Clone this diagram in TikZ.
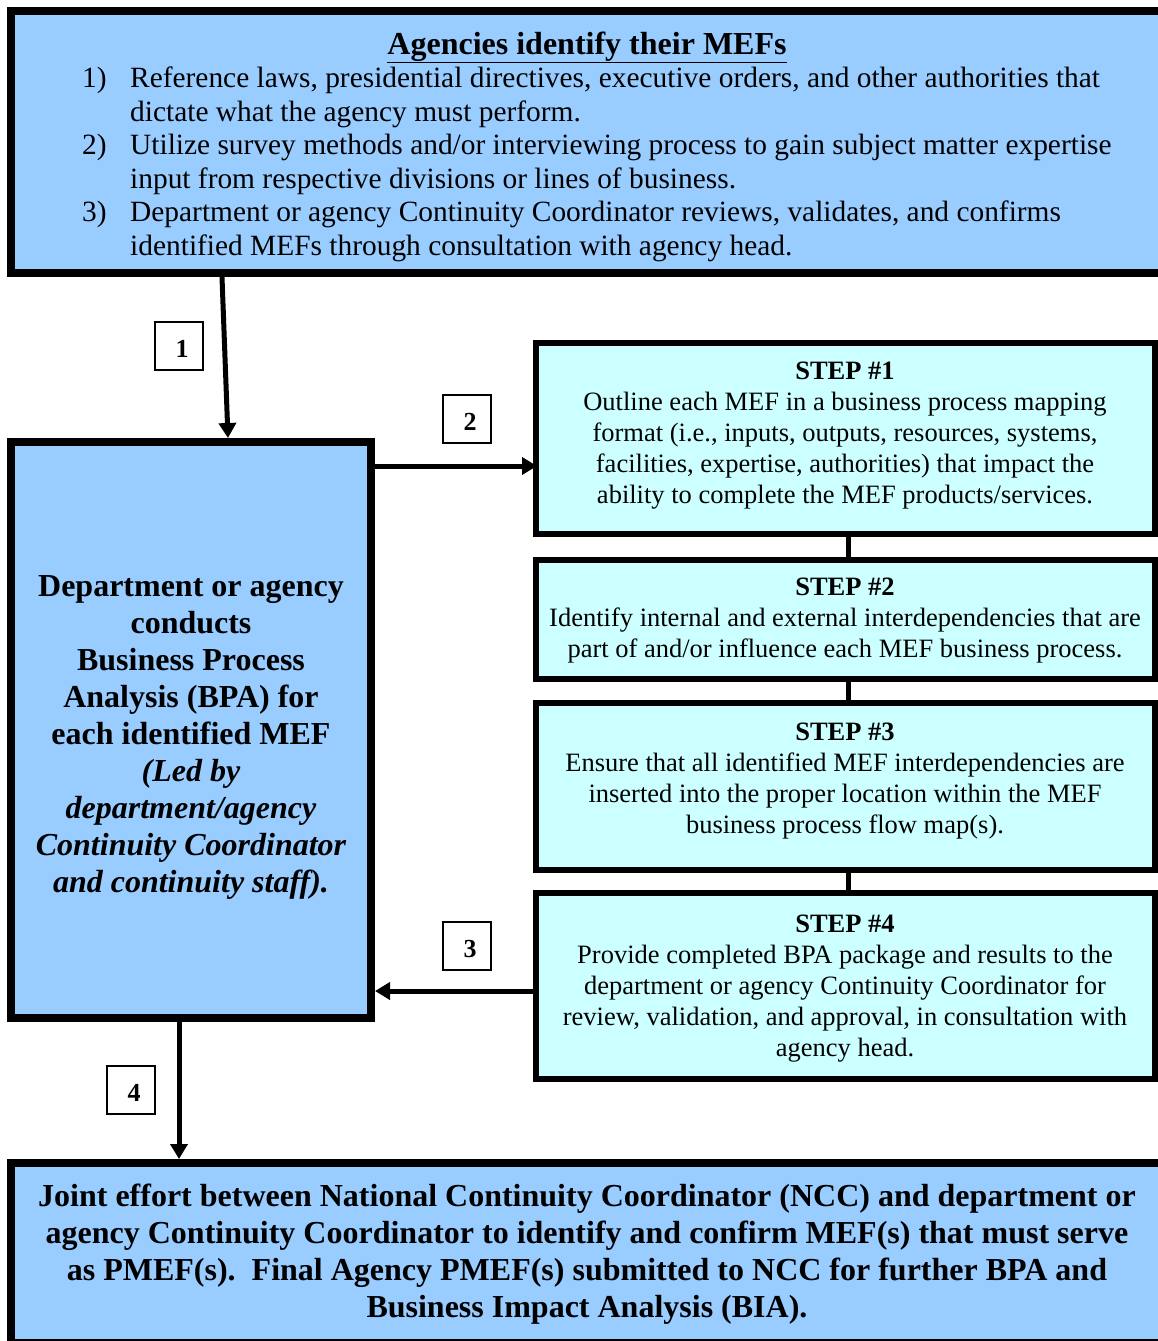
\documentclass[tikz,border=0pt]{standalone}
\usepackage{fontspec}
\setmainfont{Liberation Serif}
\usetikzlibrary{arrows.meta,calc}
\definecolor{boxblue}{RGB}{153,204,255}
\definecolor{boxcyan}{RGB}{204,255,255}
\begin{document}
\begin{tikzpicture}[x=1pt,y=-1pt,
  bluebox/.style={draw=black,line width=8pt,fill=boxblue,inner sep=0pt},
  stepbox/.style={draw=black,line width=6pt,fill=boxcyan,inner sep=0pt},
  numbox/.style={draw=black,line width=1.5pt,fill=white,minimum width=48pt,minimum height=48pt,inner sep=0pt},
  numtext/.style={font=\fontsize{26}{30}\selectfont\bfseries,inner sep=0pt},
  arr/.style={line width=5pt,-{Triangle[length=15pt,width=17pt]}},
  link/.style={line width=5pt},
  body/.style={font=\fontsize{26.5}{31}\selectfont,inner sep=0pt},
  bigbold/.style={font=\fontsize{32}{37}\selectfont\bfseries,inner sep=0pt}]
\useasboundingbox (0,0) rectangle (1158,1341);
\clip (0,0) rectangle (1158,1341);

% boxes
\node[bluebox,minimum width=1159pt,minimum height=262pt] (top) at (590.5,142) {};
\node[bluebox,minimum width=360pt,minimum height=576pt] (left) at (191,730) {};
\node[stepbox,minimum width=619pt,minimum height=191pt] (s1) at (845.5,438.5) {};
\node[stepbox,minimum width=619pt,minimum height=119pt] (s2) at (845.5,619.5) {};
\node[stepbox,minimum width=619pt,minimum height=167pt] (s3) at (845.5,786.5) {};
\node[stepbox,minimum width=619pt,minimum height=186pt] (s4) at (845.5,986) {};
\node[bluebox,minimum width=1159pt,minimum height=180pt] (bot) at (590.5,1253) {};

% top box text
\node[font=\fontsize{32}{37}\selectfont\bfseries,inner sep=0pt,anchor=base] (title) at (587,54) {\underline{Agencies identify their MEFs}};
\node[font=\fontsize{29.4}{33.5}\selectfont,inner sep=0pt,anchor=west] (list) at (82,165) {%
\begin{tabular}{@{}p{48pt}@{}l@{}}
1) & Reference laws, presidential directives, executive orders, and other authorities that\\
   & dictate what the agency must perform.\\
2) & Utilize survey methods and/or interviewing process to gain subject matter expertise\\
   & input from respective divisions or lines of business.\\
3) & Department or agency Continuity Coordinator reviews, validates, and confirms\\
   & identified MEFs through consultation with agency head.
\end{tabular}};

% left box text
\node[bigbold] (lefttext) at (191,737.5) {%
\begin{tabular}{@{}c@{}}
Department or agency\\
conducts\\
Business Process\\
Analysis (BPA) for\\
each identified MEF\\
\itshape (Led by\\
\itshape department/agency\\
\itshape Continuity Coordinator\\
\itshape and continuity staff).
\end{tabular}};

% step texts
\node[body] (t1) at (845,435.5) {%
\begin{tabular}{@{}c@{}}
\textbf{STEP \#1}\\
Outline each MEF in a business process mapping\\
format (i.e., inputs, outputs, resources, systems,\\
facilities, expertise, authorities) that impact the\\
ability to complete the MEF products/services.
\end{tabular}};
\node[body] (t2) at (845,620.5) {%
\begin{tabular}{@{}c@{}}
\textbf{STEP \#2}\\
Identify internal and external interdependencies that are\\
part of and/or influence each MEF business process.
\end{tabular}};
\node[body] (t3) at (845,780.5) {%
\begin{tabular}{@{}c@{}}
\textbf{STEP \#3}\\
Ensure that all identified MEF interdependencies are\\
inserted into the proper location within the MEF\\
business process flow map(s).
\end{tabular}};
\node[body] (t4) at (845,988) {%
\begin{tabular}{@{}c@{}}
\textbf{STEP \#4}\\
Provide completed BPA package and results to the\\
department or agency Continuity Coordinator for\\
review, validation, and approval, in consultation with\\
agency head.
\end{tabular}};

% bottom text
\node[bigbold] (bottext) at (587,1255) {%
\begin{tabular}{@{}c@{}}
Joint effort between National Continuity Coordinator (NCC) and department or\\
agency Continuity Coordinator to identify and confirm MEF(s) that must serve\\
as PMEF(s).\ \ Final Agency PMEF(s) submitted to NCC for further BPA and\\
Business Impact Analysis (BIA).
\end{tabular}};

% connectors
\coordinate (a1s) at ($(top.south west)+(215,0)$);
\coordinate (a1e) at ($(left.north west)+(221,0)$);
\draw[arr] (a1s) -- (a1e);
\coordinate (a2s) at ($(left.north east)+(0,28)$);
\draw[arr] (a2s) -- ($(a2s -| s1.west)+(4,0)$);
\coordinate (a3s) at ($(s4.north west)+(3,101)$);
\draw[arr] (a3s) -- (a3s -| left.east);
\coordinate (a4s) at ($(left.south west)+(172,0)$);
\draw[arr] (a4s) -- (a4s |- bot.north);
\coordinate (l1) at ($(s1.south west)+(315,0)$);
\draw[link] (l1) -- (l1 |- s2.north);
\coordinate (l2) at ($(s2.south west)+(315,0)$);
\draw[link] (l2) -- (l2 |- s3.north);
\coordinate (l3) at ($(s3.south west)+(315,0)$);
\draw[link] (l3) -- (l3 |- s4.north);

% number labels
\node[numbox] (n1) at (179,346) {};
\node[numtext] at ($(n1)+(3,3)$) {1};
\node[numbox] (n2) at (467,419) {};
\node[numtext] at ($(n2)+(3,3)$) {2};
\node[numbox] (n3) at (467,946) {};
\node[numtext] at ($(n3)+(3,3)$) {3};
\node[numbox] (n4) at (131,1090) {};
\node[numtext] at ($(n4)+(3,3)$) {4};
\end{tikzpicture}
\end{document}
